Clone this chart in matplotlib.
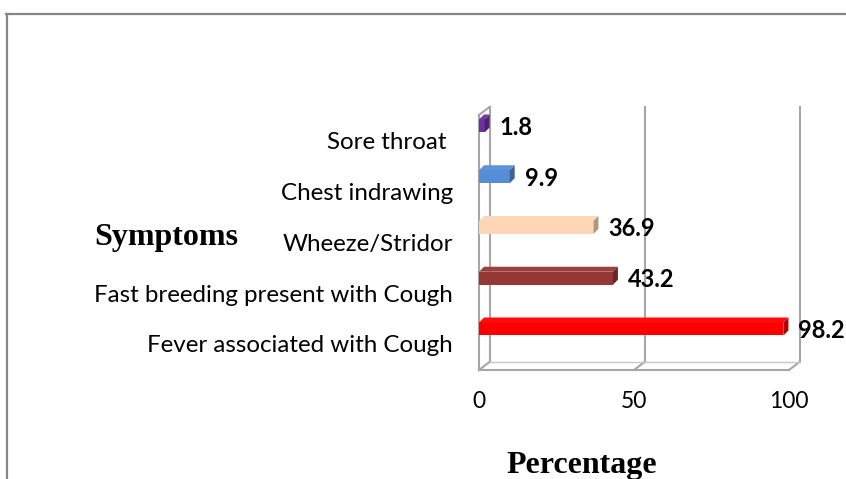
import matplotlib
matplotlib.use("Agg")
import matplotlib.pyplot as plt
from matplotlib.patches import Polygon
from matplotlib.lines import Line2D
from matplotlib.transforms import ScaledTranslation
import matplotlib.colors as mcolors

# ---- data ----
categories = ["Fever associated with Cough", "Fast breeding present with Cough",
              "Wheeze/Stridor", "Chest indrawing", "Sore throat "]
values = [98.2, 43.2, 36.9, 9.9, 1.8]
value_labels = ["98.2", "43.2", "36.9", "9.9", "1.8"]
xticks = [0, 50, 100]
xticklabels = ["0", "50", "100"]
bar_colors = ["#FF0000", "#953735", "#FCD5B5", "#558ED5", "#7030A0"]
xlabel = "Percentage"
ylabel = "Symptoms"

W, H, DPI = 846, 479, 100
fig = plt.figure(figsize=(W / DPI, H / DPI), dpi=DPI)
fig.patch.set_facecolor("white")

# axes placed by pixel
L, R, T, B = 479, 789, 107, 370
ax = fig.add_axes([L / W, 1 - B / H, (R - L) / W, (B - T) / H])
ax.set_xlim(0, 100)
ax.set_ylim(-0.808, 4.374)
for s in ax.spines.values():
    s.set_visible(False)
ax.set_facecolor("none")

pxx = (R - L) / 100.0
pxy = (B - T) / (4.374 + 0.808)

wdx, wdy = 10.5 / pxx, 8 / pxy   # wall depth
bdx, bdy = 5 / pxx, 5 / pxy      # bar depth
bh = 13 / pxy

ymin, ymax = ax.get_ylim()
gcol = "#A6A6A6"
lw = 1.5
for xv in xticks:
    ax.plot([xv + wdx, xv + wdx], [ymin + wdy, ymax], color=gcol, lw=lw, clip_on=False, zorder=1)
    ax.plot([xv, xv + wdx], [ymin, ymin + wdy], color=gcol, lw=lw, clip_on=False, zorder=1)
ax.plot([0, 0], [ymin, ymax - wdy], color=gcol, lw=lw, clip_on=False, zorder=1)
ax.plot([0, wdx], [ymax - wdy, ymax], color=gcol, lw=lw, clip_on=False, zorder=1)
ax.plot([0, 100], [ymin, ymin], color=gcol, lw=lw, clip_on=False, zorder=1)
ax.plot([wdx, 100 + wdx], [ymin + wdy, ymin + wdy], color="#C8C8C8", lw=1, clip_on=False, zorder=1)

# bars
ypos = list(range(len(categories)))
ax.barh(ypos, values, height=bh, color=bar_colors, edgecolor="none", zorder=3)
for y, v, c in zip(ypos, values, bar_colors):
    rgb = mcolors.to_rgb(c)
    dark = tuple(ch * 0.7 for ch in rgb)
    light = tuple(min(1, ch * 0.95 + 0.05) for ch in rgb)
    top = Polygon([(0, y + bh / 2), (v, y + bh / 2), (v + bdx, y + bh / 2 + bdy), (bdx, y + bh / 2 + bdy)],
                  closed=True, facecolor=light, edgecolor="none", zorder=3)
    side = Polygon([(v, y - bh / 2), (v + bdx, y - bh / 2 + bdy), (v + bdx, y + bh / 2 + bdy), (v, y + bh / 2)],
                   closed=True, facecolor=dark, edgecolor="none", zorder=3)
    ax.add_patch(top)
    ax.add_patch(side)

# value labels
for y, v, t in zip(ypos, values, value_labels):
    ax.annotate(t, xy=(v, y), xytext=(15 * 72 / DPI, -1), textcoords="offset points",
                ha="left", va="center", fontsize=17, fontweight="bold", family="Lato",
                color="black", zorder=4, annotation_clip=False)

# ticks
ax.set_xticks(xticks)
ax.set_xticklabels(xticklabels, family="Lato", fontsize=16.5)
ax.set_yticks(ypos)
ax.set_yticklabels(categories, family="Lato", fontsize=17.4)
ax.tick_params(axis="both", length=0)
ax.tick_params(axis="x", pad=21 * 72 / DPI)
ax.tick_params(axis="y", pad=26 * 72 / DPI)
off = ScaledTranslation(0, -15 / DPI, fig.dpi_scale_trans)
for lab in ax.get_yticklabels():
    lab.set_transform(lab.get_transform() + off)

# axis titles
fig.text(582 / W, 1 - 473 / H, xlabel, ha="center", va="baseline", family="Liberation Serif",
         fontweight="bold", fontsize=23)
fig.text(166 / W, 1 - 245 / H, ylabel, ha="center", va="baseline", family="Liberation Serif",
         fontweight="bold", fontsize=23)

# outer frame
fcol = "#868686"
fig.add_artist(Line2D([6 / W, 1], [1 - 14 / H, 1 - 14 / H], color=fcol, lw=1.6))
fig.add_artist(Line2D([7 / W, 7 / W], [0, 1 - 14 / H], color=fcol, lw=1.6))

fig.savefig("out.png", dpi=DPI)
